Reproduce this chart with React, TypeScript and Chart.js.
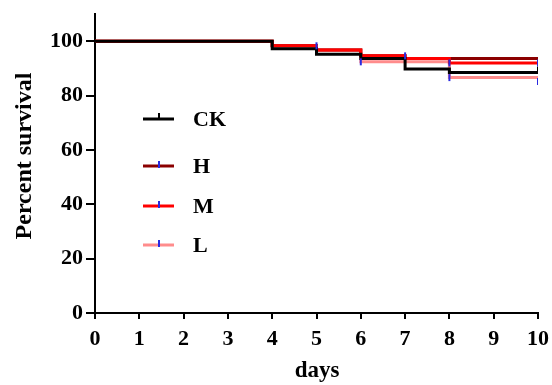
import React, { useEffect, useRef } from "react";
import { Chart, registerables } from "chart.js";

Chart.register(...registerables);

const days = [0, 4, 5, 6, 7, 8, 10];
const seriesNames = ["CK", "H", "M", "L"];
const ckValues = [100, 97.2, 95.2, 93.6, 89.8, 88.5, 88.5];
const hValues = [100, 98.3, 96.8, 94.6, 93.6, 93.6, 93.6];
const mValues = [100, 98.3, 96.8, 94.6, 93.6, 92.0, 92.0];
const lValues = [100, 98.3, 96.8, 92.4, 92.4, 86.6, 86.6];
const seriesColors = ["#000000", "#8B0000", "#FF0000", "#FF8C8C"];
const censorDays = [5, 7, 8, 10, 6, 8, 10];
const censorValues = [98.3, 94.6, 92.0, 92.0, 92.4, 86.6, 85.2];
const ckCensorDays = [10];
const ckCensorValues = [89.6];
const xTicks = [0, 1, 2, 3, 4, 5, 6, 7, 8, 9, 10];
const yTicks = [0, 20, 40, 60, 80, 100];

const FONT = "'Times New Roman', 'Liberation Serif', serif";

const overlayPlugin = {
  id: "overlay",
  afterDraw(chart: any) {
    const ctx = chart.ctx;
    ctx.save();
    // axis titles
    ctx.fillStyle = "#000";
    ctx.font = `bold 23px ${FONT}`;
    ctx.textAlign = "center";
    ctx.textBaseline = "middle";
    ctx.fillText("days", 317, 371);
    ctx.save();
    ctx.translate(25, 156);
    ctx.rotate(-Math.PI / 2);
    ctx.font = `bold 24px ${FONT}`;
    ctx.fillText("Percent survival", 0, 0);
    ctx.restore();
    // legend
    const rows = [119, 166, 206, 245];
    seriesNames.forEach((name, i) => {
      const y = rows[i];
      ctx.strokeStyle = seriesColors[i];
      ctx.lineWidth = 3;
      ctx.beginPath();
      ctx.moveTo(143, y);
      ctx.lineTo(174, y);
      ctx.stroke();
      ctx.strokeStyle = i === 0 ? "#000" : "#2a2ae0";
      ctx.lineWidth = 2;
      ctx.beginPath();
      if (i === 0) {
        ctx.moveTo(159, y);
        ctx.lineTo(159, y - 6);
      } else {
        ctx.moveTo(159, y + 2);
        ctx.lineTo(159, y - 5);
      }
      ctx.stroke();
      ctx.fillStyle = "#000";
      ctx.font = `bold 22px ${FONT}`;
      ctx.textAlign = "left";
      ctx.textBaseline = "middle";
      ctx.fillText(name, 193, y + 1);
    });
    ctx.restore();
  },
};

export default function App() {
  const ref = useRef<HTMLCanvasElement>(null);
  useEffect(() => {
    document.body.style.margin = "0";
    const toPts = (vals: number[]) => days.map((d, i) => ({ x: d, y: vals[i] }));
    const allVals = [ckValues, hValues, mValues, lValues];
    const lineSets = [3, 1, 2, 0].map((idx) => ({
      type: "line" as const,
      label: seriesNames[idx],
      data: toPts(allVals[idx]),
      borderColor: seriesColors[idx],
      backgroundColor: seriesColors[idx],
      borderWidth: 3,
      stepped: true,
      pointRadius: 0,
      fill: false,
      order: idx === 0 ? 1 : idx === 2 ? 2 : idx === 1 ? 3 : 4,
    }));
    const chart = new Chart(ref.current!, {
      type: "line",
      data: {
        datasets: [
          {
            type: "scatter",
            label: "censor",
            data: censorDays.map((d, i) => ({ x: d, y: censorValues[i] })),
            showLine: false,
            pointStyle: "line",
            rotation: 90,
            pointRadius: 3.5,
            borderWidth: 2,
            borderColor: "#2a2ae0",
            backgroundColor: "#2a2ae0",
            order: 0,
          } as any,
          {
            type: "scatter",
            label: "ckcensor",
            data: ckCensorDays.map((d, i) => ({ x: d, y: ckCensorValues[i] })),
            showLine: false,
            pointStyle: "line",
            rotation: 90,
            pointRadius: 3,
            borderWidth: 2,
            borderColor: "#000",
            backgroundColor: "#000",
            order: 0,
          } as any,
          ...lineSets,
        ],
      },
      options: {
        animation: false,
        responsive: true,
        maintainAspectRatio: false,
        layout: { padding: { top: 14, right: 14, left: 0, bottom: 0 } },
        plugins: { legend: { display: false }, tooltip: { enabled: false } },
        scales: {
          x: {
            type: "linear",
            min: 0,
            max: 10,
            afterBuildTicks: (s: any) => {
              s.ticks = xTicks.map((v) => ({ value: v }));
            },
            afterFit: (s: any) => {
              s.height = 72;
              s.paddingLeft = 0;
              s.paddingRight = 0;
            },
            ticks: {
              color: "#000",
              font: { family: FONT, size: 22, weight: "bold" },
              padding: 7,
              maxRotation: 0,
            },
            grid: {
              drawOnChartArea: false,
              drawTicks: true,
              tickLength: 6,
              color: "#000",
              lineWidth: 2,
            },
            border: { display: true, color: "#000", width: 2 },
          },
          y: {
            type: "linear",
            min: 0,
            max: 110,
            afterBuildTicks: (s: any) => {
              s.ticks = yTicks.map((v) => ({ value: v }));
            },
            afterFit: (s: any) => {
              s.width = 95;
              s.paddingTop = 0;
              s.paddingBottom = 0;
            },
            ticks: {
              color: "#000",
              font: { family: FONT, size: 22, weight: "bold" },
              padding: 3,
            },
            grid: {
              drawOnChartArea: false,
              drawTicks: true,
              tickLength: 9,
              color: "#000",
              lineWidth: 2,
            },
            border: { display: true, color: "#000", width: 2 },
          },
        },
      },
      plugins: [overlayPlugin],
    });
    return () => chart.destroy();
  }, []);
  return (
    <div style={{ position: "absolute", left: 0, top: 0, width: 552, height: 385, background: "#fff" }}>
      <canvas ref={ref} />
    </div>
  );
}
